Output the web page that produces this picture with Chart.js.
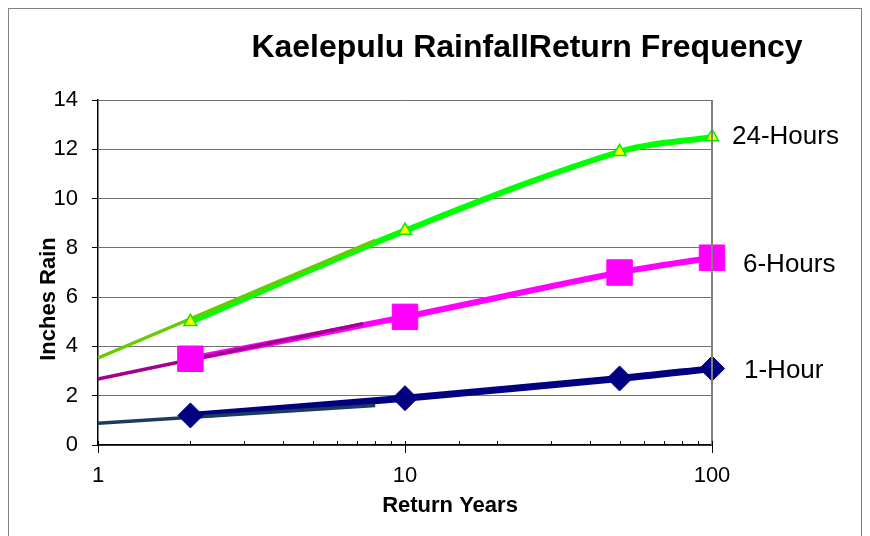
<!DOCTYPE html>
<html>
<head>
<meta charset="utf-8">
<script src="https://cdn.jsdelivr.net/npm/chart.js@4/dist/chart.umd.min.js"></script>
<style>
  html, body { margin: 0; padding: 0; background: #ffffff; }
  #wrap { width: 870px; height: 536px; position: relative; }
</style>
</head>
<body>
<div id="wrap"><canvas id="c" width="870" height="536"></canvas></div>
<script>
// ---- data ----
const returnYears = [2, 10, 50, 100];
const oneHour = [1.2, 1.9, 2.7, 3.1];
const sixHours = [3.5, 5.2, 7.0, 7.6];
const twentyFourHours = [5.0, 8.7, 11.9, 12.5];

// log trendlines (start / end)
const trendYears1h = [1, 8];
const trend1h = [0.88, 1.6];
const trendYears6h = [1, 7.3];
const trend6h = [2.68, 4.92];
const trendYears24h = [1, 8];
const trend24h = [3.53, 8.3];

const seriesNames = ['1-Hour', '6-Hours', '24-Hours'];
const yTickValues = [0, 2, 4, 6, 8, 10, 12, 14];
const xTickLabels = [1, 10, 100];

const chartTitle = 'Kaelepulu RainfallReturn Frequency';
const xTitle = 'Return Years';
const yTitle = 'Inches Rain';

const pts = (xs, ys) => xs.map((x, i) => ({ x: x, y: ys[i] }));
const FONT = '"Liberation Sans", Arial, Helvetica, sans-serif';

const decorPlugin = {
  id: 'decor',
  beforeDraw(chart) {
    const ctx = chart.ctx;
    ctx.save();
    ctx.fillStyle = '#ffffff';
    ctx.fillRect(0, 0, chart.width, chart.height);
    ctx.strokeStyle = '#808080';
    ctx.lineWidth = 1;
    ctx.strokeRect(8.5, 8.5, 853, 600);
    ctx.restore();
  },
  afterDatasetsDraw(chart) {
    const ctx = chart.ctx;
    const xs = chart.scales.x, ys = chart.scales.y;
    const ca = chart.chartArea;
    ctx.save();
    // right border of plot
    ctx.strokeStyle = '#808080';
    ctx.lineWidth = 2;
    ctx.beginPath();
    ctx.moveTo(ca.right, ca.top);
    ctx.lineTo(ca.right, ca.bottom);
    ctx.stroke();
    // x axis tick marks (minor inside, major crossing)
    ctx.strokeStyle = '#000000';
    ctx.lineWidth = 1;
    xs.ticks.forEach(t => {
      const px = Math.round(xs.getPixelForValue(t.value)) + 0.5;
      const major = xTickLabels.indexOf(t.value) >= 0;
      ctx.beginPath();
      ctx.moveTo(px, ca.bottom - 4);
      ctx.lineTo(px, ca.bottom + (major ? 8 : 0));
      ctx.stroke();
    });
    // series labels at the right
    ctx.fillStyle = '#000000';
    ctx.font = '26px ' + FONT;
    ctx.textAlign = 'left';
    ctx.textBaseline = 'alphabetic';
    const lastX = xs.getPixelForValue(returnYears[returnYears.length - 1]);
    const labelSpec = [
      { name: seriesNames[0], v: oneHour[oneHour.length - 1], dx: 32, dy: 9 },
      { name: seriesNames[1], v: sixHours[sixHours.length - 1], dx: 31, dy: 14 },
      { name: seriesNames[2], v: twentyFourHours[twentyFourHours.length - 1], dx: 20, dy: 7 }
    ];
    labelSpec.forEach(s => {
      ctx.fillText(s.name, lastX + s.dx, ys.getPixelForValue(s.v) + s.dy);
    });
    // chart title
    ctx.font = 'bold 32px ' + FONT;
    ctx.textAlign = 'center';
    ctx.fillText(chartTitle, 527, 57);
    // x axis title
    ctx.font = 'bold 22px ' + FONT;
    ctx.fillText(xTitle, 450, 512);
    // y axis title
    ctx.translate(55, 299);
    ctx.rotate(-Math.PI / 2);
    ctx.fillText(yTitle, 0, 0);
    ctx.restore();
  }
};

const lineDs = (name, ys, color, width) => ({
  label: name, data: pts(returnYears, ys), order: 3,
  borderColor: color, backgroundColor: color, borderWidth: width,
  pointRadius: 0, tension: 0.35
});
const markerDs = (name, ys, style, radius, fill, stroke, bw) => ({
  label: name + ' markers', data: pts(returnYears, ys), order: 1, showLine: false,
  pointStyle: style, pointRadius: radius, pointBackgroundColor: fill,
  pointBorderColor: stroke, pointBorderWidth: bw, backgroundColor: fill, borderColor: stroke
});
const trendDs = (name, xs, ys, color) => ({
  label: 'trend ' + name, data: pts(xs, ys), order: 2,
  borderColor: color, borderWidth: 3.5, pointRadius: 0, tension: 0
});

new Chart(document.getElementById('c'), {
  type: 'line',
  data: {
    datasets: [
      lineDs(seriesNames[0], oneHour, '#000080', 7),
      lineDs(seriesNames[1], sixHours, '#ff00ff', 6),
      lineDs(seriesNames[2], twentyFourHours, '#00ff00', 6),
      trendDs(seriesNames[0], trendYears1h, trend1h, '#1c3b5e'),
      trendDs(seriesNames[1], trendYears6h, trend6h, '#a3008f'),
      trendDs(seriesNames[2], trendYears24h, trend24h, '#66cc00'),
      markerDs(seriesNames[0], oneHour, 'rectRot', 12.5, '#000080', '#000080', 1),
      markerDs(seriesNames[1], sixHours, 'rect', 18, '#ff00ff', '#ff00ff', 1),
      markerDs(seriesNames[2], twentyFourHours, 'triangle', 7.5, '#ffff00', '#00ee00', 1.5)
    ]
  },
  options: {
    responsive: false,
    animation: false,
    clip: false,
    layout: { padding: { top: 100, right: 158, left: 0, bottom: 0 } },
    plugins: { legend: { display: false }, tooltip: { enabled: false }, title: { display: false } },
    scales: {
      x: {
        type: 'logarithmic', min: 1, max: 100,
        afterFit(scale) { scale.height = 91; },
        border: { display: true, color: '#000000', width: 1.5 },
        grid: { drawOnChartArea: false, drawTicks: false },
        ticks: {
          autoSkip: false, maxRotation: 0, padding: 18, color: '#000000',
          font: { family: FONT, size: 22 },
          callback(v) { return xTickLabels.indexOf(v) >= 0 ? String(v) : ''; }
        }
      },
      y: {
        min: 0, max: 14,
        afterFit(scale) { scale.width = 98; },
        afterBuildTicks(scale) { scale.ticks = yTickValues.map(v => ({ value: v })); },
        border: { display: true, color: '#000000', width: 1.5 },
        grid: { color: '#707070', lineWidth: 1, tickLength: 6, tickColor: '#000000' },
        ticks: { padding: 14, color: '#000000', font: { family: FONT, size: 22 } }
      }
    }
  },
  plugins: [decorPlugin]
});
</script>
</body>
</html>
